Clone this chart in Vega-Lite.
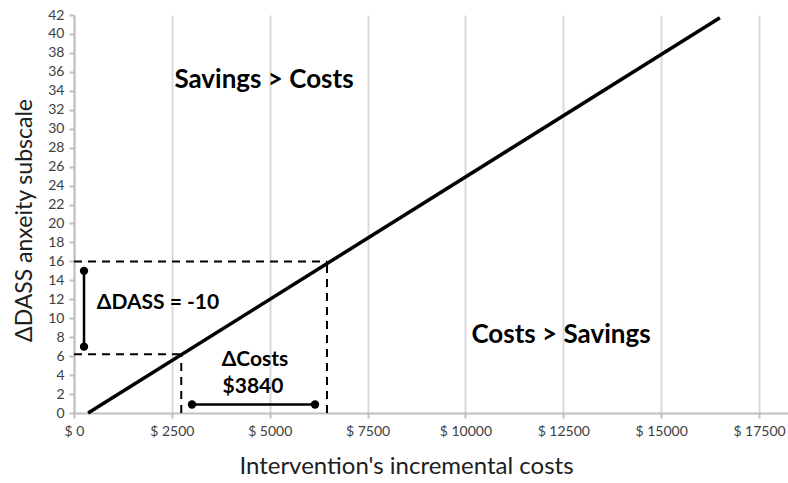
{
  "$schema": "https://vega.github.io/schema/vega-lite/v6.json",
  "autosize": "none",
  "width": 714,
  "height": 398,
  "padding": {"left": 74, "top": 15, "right": 0, "bottom": 70},
  "background": "white",
  "config": {
    "view": {"stroke": null},
    "font": "Lato",
    "axis": {"labelFont": "Lato", "titleFont": "Lato"}
  },
  "datasets": {
    "diag": [{"x": 360, "y": 0}, {"x": 16500, "y": 41.7}],
    "dashed": [
      {"x": 0, "x2": 6463, "y": 16, "y2": 16},
      {"x": 6463, "x2": 6463, "y": 0, "y2": 16},
      {"x": 0, "x2": 2740, "y": 6.2, "y2": 6.2},
      {"x": 2740, "x2": 2740, "y": 0, "y2": 6.2}
    ],
    "solid": [
      {"x": 256, "x2": 256, "y": 7, "y2": 15},
      {"x": 3014, "x2": 6157, "y": 0.9, "y2": 0.9}
    ],
    "dots": [
      {"x": 256, "y": 7}, {"x": 256, "y": 15},
      {"x": 3014, "y": 0.9}, {"x": 6157, "y": 0.9}
    ],
    "bigtext": [
      {"x": 4854, "y": 35.1, "label": "Savings > Costs"},
      {"x": 12441, "y": 8.23, "label": "Costs > Savings"}
    ],
    "smalltext": [
      {"x": 2146, "y": 11.6, "label": "ΔDASS = -10"},
      {"x": 4624, "y": 5.6, "label": "ΔCosts"},
      {"x": 4573, "y": 2.74, "label": "$3840"}
    ]
  },
  "layer": [
    {
      "data": {"name": "diag"},
      "mark": {"type": "line", "color": "black", "strokeWidth": 3.5},
      "encoding": {
        "x": {
          "field": "x", "type": "quantitative",
          "scale": {"domain": [0, 18240], "nice": false, "zero": false},
          "axis": {
            "values": [0, 2500, 5000, 7500, 10000, 12500, 15000, 17500],
            "tickCount": 20,
            "labelExpr": "'$ ' + datum.value",
            "labelFontSize": 14, "labelColor": "#404040", "labelPadding": 6,
            "labelOverlap": false, "labelFlush": false,
            "grid": true, "gridColor": "#d9d9d9", "gridWidth": 2,
            "domainColor": "#bfbfbf", "domainWidth": 2,
            "tickColor": "#bfbfbf", "tickSize": 5, "tickWidth": 2,
            "title": "Intervention's incremental costs",
            "titleFontSize": 24, "titleFontWeight": "normal", "titleColor": "#202020",
            "titleX": 332, "titleY": 53, "titleBaseline": "middle", "titleAlign": "center"
          }
        },
        "y": {
          "field": "y", "type": "quantitative",
          "scale": {"domain": [0, 42], "nice": false},
          "axis": {
            "values": [0,2,4,6,8,10,12,14,16,18,20,22,24,26,28,30,32,34,36,38,40,42],
            "tickCount": 50,
            "labelFontSize": 14, "labelColor": "#404040", "labelPadding": 5,
            "labelOverlap": false, "labelFlush": false,
            "grid": false,
            "domainColor": "#bfbfbf", "domainWidth": 2,
            "tickColor": "#bfbfbf", "tickSize": 5, "tickWidth": 2,
            "title": "ΔDASS anxeity subscale",
            "titleFontSize": 23, "titleFontWeight": "normal", "titleColor": "#202020",
            "titleAngle": -90, "titleX": -50, "titleY": 205,
            "titleBaseline": "middle", "titleAlign": "center"
          }
        }
      }
    },
    {
      "data": {"name": "dashed"},
      "mark": {"type": "rule", "color": "black", "strokeWidth": 2, "strokeDash": [8, 6]},
      "encoding": {
        "x": {"field": "x", "type": "quantitative"},
        "x2": {"field": "x2"},
        "y": {"field": "y", "type": "quantitative"},
        "y2": {"field": "y2"}
      }
    },
    {
      "data": {"name": "solid"},
      "mark": {"type": "rule", "color": "black", "strokeWidth": 2.5},
      "encoding": {
        "x": {"field": "x", "type": "quantitative"},
        "x2": {"field": "x2"},
        "y": {"field": "y", "type": "quantitative"},
        "y2": {"field": "y2"}
      }
    },
    {
      "data": {"name": "dots"},
      "mark": {"type": "circle", "color": "black", "opacity": 1, "size": 70},
      "encoding": {
        "x": {"field": "x", "type": "quantitative"},
        "y": {"field": "y", "type": "quantitative"}
      }
    },
    {
      "data": {"name": "bigtext"},
      "mark": {"type": "text", "fontSize": 26, "fontWeight": "bold", "color": "black", "align": "center", "baseline": "middle"},
      "encoding": {
        "x": {"field": "x", "type": "quantitative"},
        "y": {"field": "y", "type": "quantitative"},
        "text": {"field": "label"}
      }
    },
    {
      "data": {"name": "smalltext"},
      "mark": {"type": "text", "fontSize": 21, "fontWeight": "bold", "color": "black", "align": "center", "baseline": "middle"},
      "encoding": {
        "x": {"field": "x", "type": "quantitative"},
        "y": {"field": "y", "type": "quantitative"},
        "text": {"field": "label"}
      }
    }
  ]
}
